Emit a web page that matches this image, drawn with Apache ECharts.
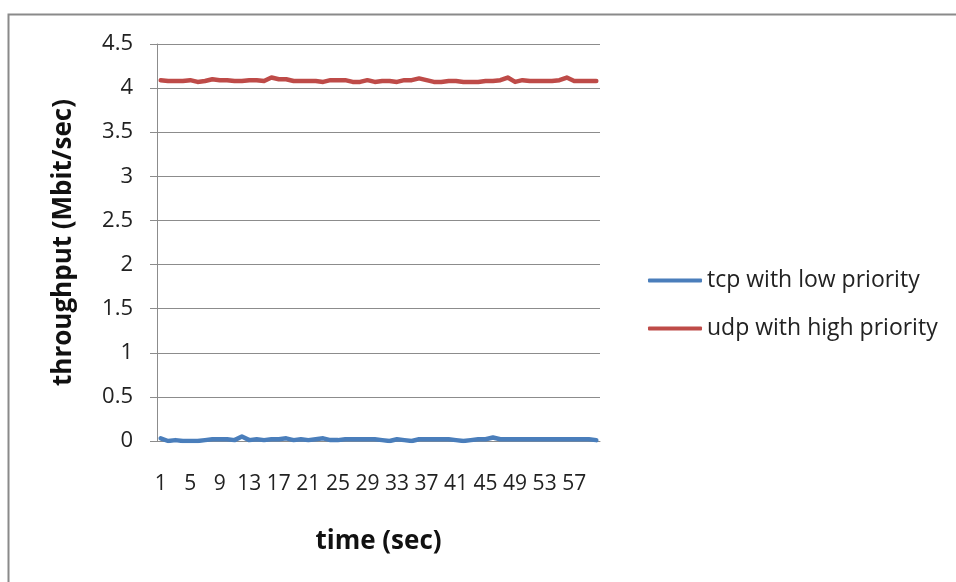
<!DOCTYPE html>
<html>
<head>
<meta charset="utf-8">
<script src="https://cdn.jsdelivr.net/npm/echarts@6/dist/echarts.min.js"></script>
<style>
  html, body { margin: 0; padding: 0; background: #fff; }
  #chart { width: 956px; height: 582px; }
</style>
</head>
<body>
<div id="chart"></div>
<script>
// Time axis: one sample per second, 1..60
const seconds = [];
for (let s = 1; s <= 60; s++) seconds.push(String(s));

// Throughput in Mbit/sec
const tcpLow = [
  0.03, 0.00, 0.01, 0.00, 0.00, 0.00, 0.01, 0.02, 0.02, 0.02,
  0.01, 0.05, 0.01, 0.02, 0.01, 0.02, 0.02, 0.03, 0.01, 0.02,
  0.01, 0.02, 0.03, 0.01, 0.01, 0.02, 0.02, 0.02, 0.02, 0.02,
  0.01, 0.00, 0.02, 0.01, 0.00, 0.02, 0.02, 0.02, 0.02, 0.02,
  0.01, 0.00, 0.01, 0.02, 0.02, 0.04, 0.02, 0.02, 0.02, 0.02,
  0.02, 0.02, 0.02, 0.02, 0.02, 0.02, 0.02, 0.02, 0.02, 0.01
];
const udpHigh = [
  4.09, 4.08, 4.08, 4.08, 4.09, 4.07, 4.08, 4.10, 4.09, 4.09,
  4.08, 4.08, 4.09, 4.09, 4.08, 4.12, 4.10, 4.10, 4.08, 4.08,
  4.08, 4.08, 4.07, 4.09, 4.09, 4.09, 4.07, 4.07, 4.09, 4.07,
  4.08, 4.08, 4.07, 4.09, 4.09, 4.11, 4.09, 4.07, 4.07, 4.08,
  4.08, 4.07, 4.07, 4.07, 4.08, 4.08, 4.09, 4.12, 4.07, 4.09,
  4.08, 4.08, 4.08, 4.08, 4.09, 4.12, 4.08, 4.08, 4.08, 4.08
];

const seriesNames = ['tcp with low priority', 'udp with high priority'];
const seriesColors = ['#4A7EBB', '#BE4B48'];

const FONT = '"Open Sans", "Liberation Sans", sans-serif';
const GRID_GRAY = '#8c8c8c';

const chart = echarts.init(document.getElementById('chart'), null, { renderer: 'canvas' });

chart.setOption({
  animation: false,
  backgroundColor: '#ffffff',
  graphic: [{
    type: 'rect',
    shape: { x: 8.5, y: 14.5, width: 1000, height: 700 },
    style: { fill: 'none', stroke: '#8a8a8a', lineWidth: 2 },
    silent: true
  }],
  grid: { left: 157, right: 356, top: 44, bottom: 141 },
  legend: {
    orient: 'vertical',
    left: 648,
    top: 269,
    padding: 0,
    itemWidth: 54,
    itemHeight: 4,
    itemGap: 25,
    icon: 'roundRect',
    data: seriesNames,
    textStyle: { fontFamily: FONT, fontSize: 23, color: '#222' }
  },
  xAxis: {
    type: 'category',
    data: seconds,
    boundaryGap: true,
    name: 'time (sec)',
    nameLocation: 'middle',
    nameGap: 88,
    nameTextStyle: { fontFamily: FONT, fontSize: 26, fontWeight: 'bold', color: '#111' },
    axisLine: { lineStyle: { color: GRID_GRAY, width: 1 } },
    axisTick: { show: false },
    axisLabel: {
      interval: 3,
      margin: 33,
      fontFamily: FONT,
      fontSize: 21,
      color: '#222'
    }
  },
  yAxis: {
    type: 'value',
    min: 0,
    max: 4.5,
    interval: 0.5,
    name: 'throughput (Mbit/sec)',
    nameLocation: 'middle',
    nameGap: 80,
    nameTextStyle: { fontFamily: FONT, fontSize: 26, fontWeight: 'bold', color: '#111' },
    axisLine: { show: true, lineStyle: { color: GRID_GRAY, width: 1 } },
    axisTick: { show: true, length: 7, lineStyle: { color: GRID_GRAY } },
    axisLabel: { margin: 24, fontFamily: FONT, fontSize: 22, color: '#222' },
    splitLine: { show: true, lineStyle: { color: GRID_GRAY, width: 1 } }
  },
  series: [
    {
      name: seriesNames[0],
      type: 'line',
      data: tcpLow,
      symbol: 'none',
      color: seriesColors[0],
      lineStyle: { width: 4.5, color: seriesColors[0], cap: 'round', join: 'round' }
    },
    {
      name: seriesNames[1],
      type: 'line',
      data: udpHigh,
      symbol: 'none',
      color: seriesColors[1],
      lineStyle: { width: 4.5, color: seriesColors[1], cap: 'round', join: 'round' }
    }
  ]
});
</script>
</body>
</html>
